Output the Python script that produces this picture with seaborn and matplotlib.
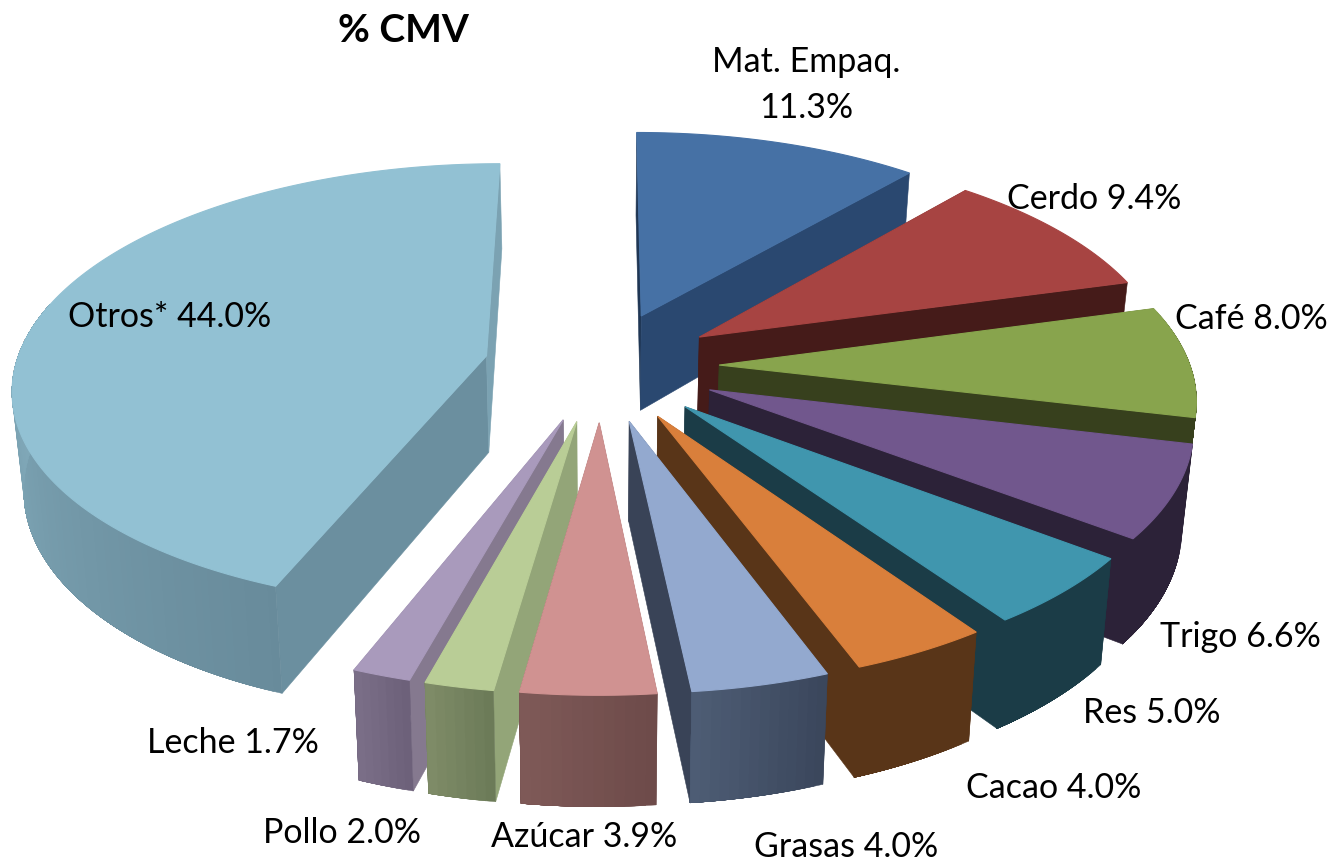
import numpy as np
import matplotlib
matplotlib.use("Agg")
import matplotlib.pyplot as plt
import seaborn as sns

# ---- data ----
categories = ["Mat. Empaq.", "Cerdo", "Café", "Trigo", "Res", "Cacao",
              "Grasas", "Azúcar", "Pollo", "Leche", "Otros*"]
values = [11.3, 9.4, 8.0, 6.6, 5.0, 4.0, 4.0, 3.9, 2.0, 1.7, 44.0]
title = "% CMV"

# ---- styles ----
top_colors = ["#4671A5", "#A74442", "#88A44D", "#71578D", "#4096AE", "#D97F3B",
              "#93A9CF", "#D09291", "#B9CD96", "#A99ABC", "#92C1D3"]
side_dark = ["#2A4870", "#451B19", "#37401D", "#2C2238", "#1B3C47", "#593518",
             "#3A465B", "#6D4A49", "#6B7A57", "#6C6079", "#688B9B"]
side_light = ["#2A4870", "#451B19", "#37401D", "#2C2238", "#1B3C47", "#593518",
              "#4E5D75", "#7F5A58", "#7F8C68", "#7B6F88", "#85AEBE"]
cut_start = ["#1F3654", "#451B19", "#37401D", "#2C2238", "#1B3C47", "#593518",
             "#394357", "#6D4A49", "#93A578", "#85798F", "#6B8F9F"]
cut_end = ["#2A4870", "#451B19", "#37401D", "#2C2238", "#1B3C47", "#593518",
           "#394357", "#6D4A49", "#93A578", "#85798F", "#7BA2B2"]
label_xy = [(806, 85), (1094, 199), (1251, 319), (1240, 637), (1152, 713),
            (1054, 788), (846, 847), (584, 837), (342, 833), (233, 743), (170, 317)]
two_line = {"Mat. Empaq."}
draw_order = [10, 0, 1, 2, 3, 4, 5, 6, 9, 8, 7]

CX, CY = 601.5, 367       # pie centre in figure pixels
SX, SY, K = 471, 220, 0.132   # perspective projection
EXPLODE = 0.25
DEPTH, DEPTH_SLOPE = 97, 11.5
BOTTOM_SHRINK = 0.98

sns.set_theme(style="white")
plt.rcParams["font.family"] = ["Lato", "DejaVu Sans"]
fig = plt.figure(figsize=(13.29, 8.62), dpi=100)
ax = fig.add_axes([0, 0, 1, 1])
ax.set_xlim(0, 1329)
ax.set_ylim(862, 0)
ax.axis("off")


def project(px, py, bottom=False):
    """Plane coords (px right, py towards viewer) to pixel coords."""
    w = 1 - K * py
    x = CX + SX * px / w
    y = CY + SY * py / w
    if bottom:
        x = CX + (x - CX) * BOTTOM_SHRINK
        y = y + DEPTH + DEPTH_SLOPE * py
    return x, y


def lerp_hex(a, b, t):
    ca = np.array(matplotlib.colors.to_rgb(a))
    cb = np.array(matplotlib.colors.to_rgb(b))
    return tuple(ca + (cb - ca) * t)


shares = np.array(values) / np.sum(values)
edges = np.concatenate([[0], np.cumsum(shares)]) * 2 * np.pi


def draw_slice(i):
    a0, a1 = edges[i], edges[i + 1]
    mid = (a0 + a1) / 2
    ox, oy = EXPLODE * np.sin(mid), -EXPLODE * np.cos(mid)
    th = np.linspace(a0, a1, max(8, int((a1 - a0) * 60)))
    px = ox + np.sin(th)
    py = oy - np.cos(th)

    tip_t = project(ox, oy)
    tip_b = project(ox, oy, True)
    arc_t = [project(a, b) for a, b in zip(px, py)]
    arc_b = [project(a, b, True) for a, b in zip(px, py)]

    # radial cut faces
    ax.fill(*zip(tip_t, arc_t[0], arc_b[0], tip_b), color=cut_start[i], lw=0.4, zorder=1)
    ax.fill(*zip(tip_t, arc_t[-1], arc_b[-1], tip_b), color=cut_end[i], lw=0.4, zorder=1)
    # outer curved wall: only the part facing the viewer, overlapping bands hide seams
    front = [j for j in range(len(th)) if py[j] - oy > -0.25]
    if len(front) > 1:
        first, last = front[0], front[-1]
        n = last - first
        for j in range(first, last):
            t = (j - first + 0.5) / n
            col = lerp_hex(side_dark[i], side_light[i], t)
            poly = arc_t[j:last + 1] + arc_b[j:last + 1][::-1]
            ax.fill(*zip(*poly), color=col, lw=0.3, zorder=1)
    # top face
    ax.fill(*zip(tip_t, *arc_t), color=top_colors[i], lw=0.8, zorder=1)


for i in draw_order:
    draw_slice(i)

for name, val, (x, y) in zip(categories, values, label_xy):
    sep = "\n" if name in two_line else " "
    ax.text(x, y, f"{name}{sep}{val:.1f}%", ha="center", va="center",
            fontsize=24.5, color="black", linespacing=1.5, zorder=5)

ax.text(403, 30, title, ha="center", va="center", fontsize=28, fontweight="bold",
        color="black", zorder=5)

fig.savefig("out.png", dpi=100, facecolor="white")
